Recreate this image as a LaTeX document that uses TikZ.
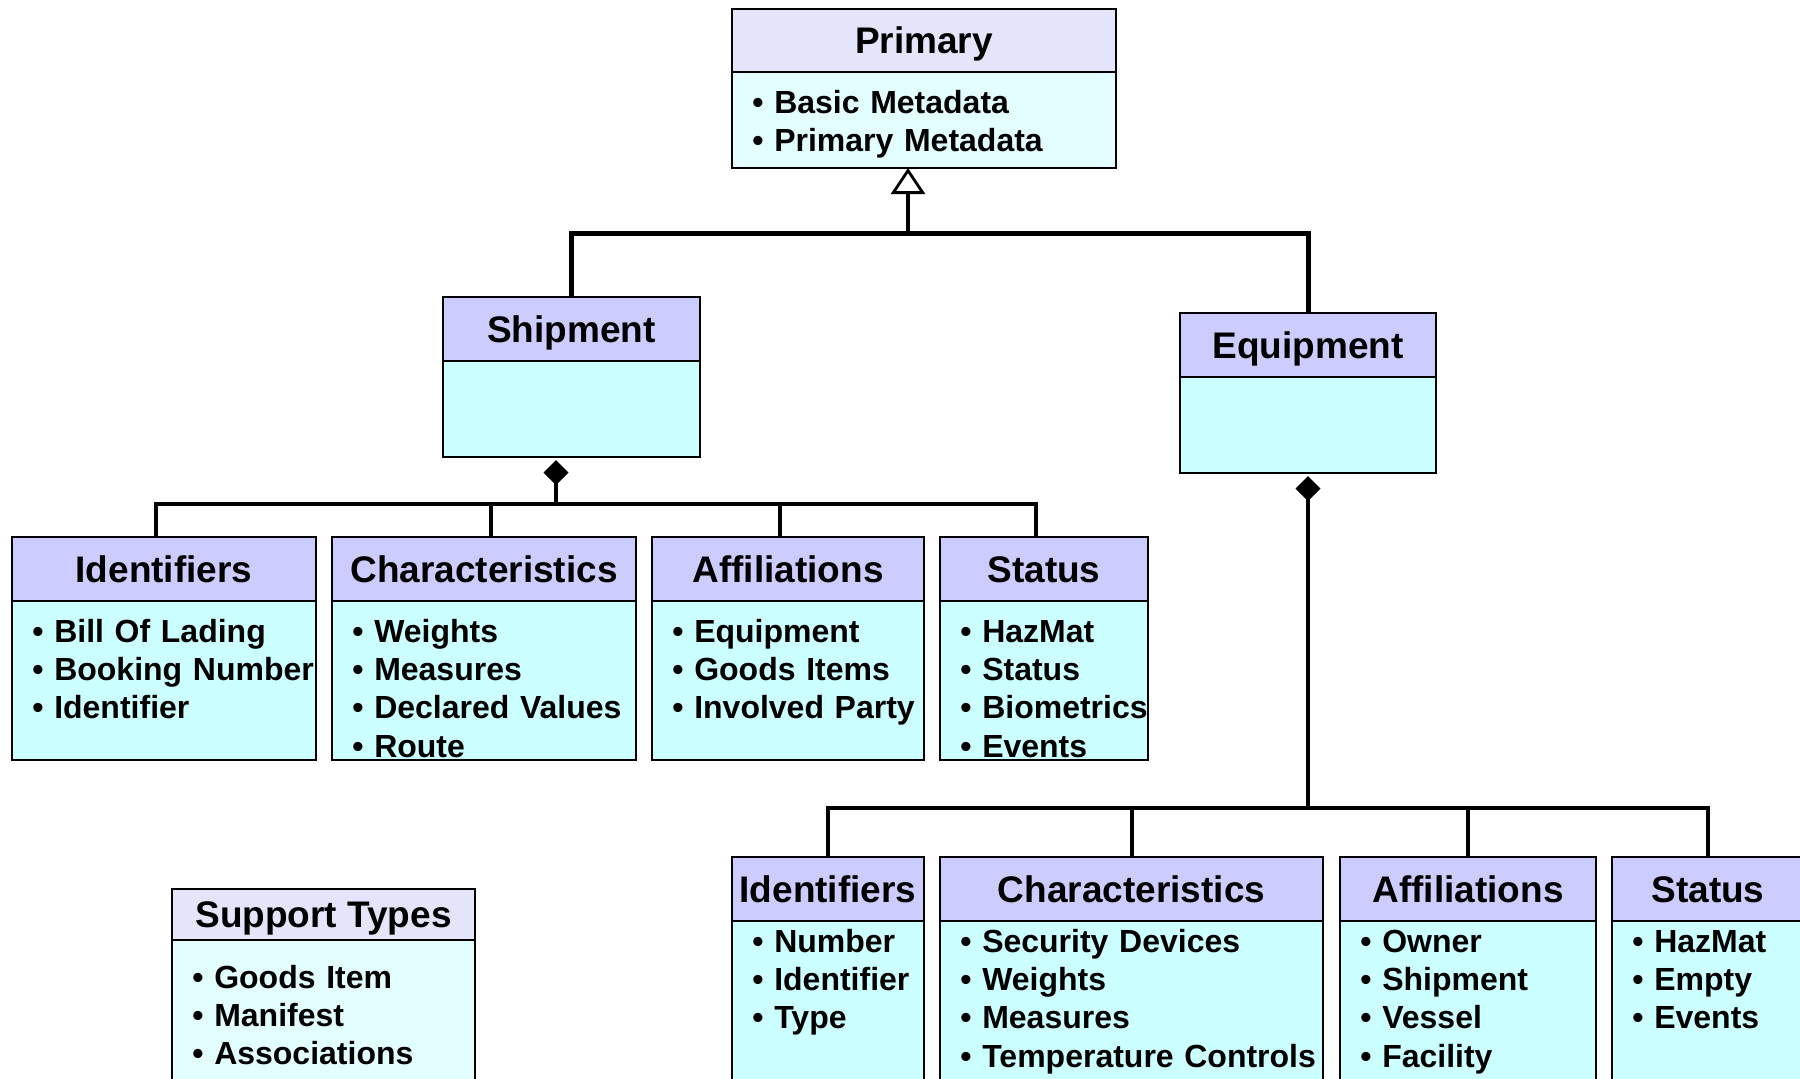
\documentclass[tikz,border=0pt]{standalone}
\usepackage{fontspec}
\setmainfont{Liberation Sans}
\usetikzlibrary{arrows.meta}
\definecolor{hdr}{HTML}{CCCCFF}
\definecolor{bdy}{HTML}{CCFFFF}
\definecolor{hdrl}{HTML}{E4E4FA}
\definecolor{bdyl}{HTML}{E2FEFE}
\newcommand\clsbox[9]{%
  \node[hbox,fill=#8,minimum width=#4*0.5bp,minimum height=#5*0.5bp] (#1h) at (#2,#3) {#7};
  \node[bbox,fill=#9,minimum width=#4*0.5bp,minimum height=#6*0.5bp] (#1b) at (#1h.south west) {};
}
\begin{document}
\begin{tikzpicture}[x=0.5bp,y=-0.5bp,
  box/.style={draw=black, line width=1.2bp, inner sep=0pt, outer sep=0pt, anchor=north west},
  hbox/.style={box, font=\bfseries\fontsize{18.5bp}{22bp}\selectfont, text height=13.2bp, text depth=0pt},
  bbox/.style={box},
  items/.style={anchor=base west, inner sep=0pt, text width=220bp, align=left,
    font=\bfseries\fontsize{16bp}{19.1bp}\selectfont},
  conn/.style={line width=2bp, line join=miter},
  gen/.style={line width=2.5bp, line join=miter},
  diam/.style={conn, {Diamond[length=12.5bp,width=12.5bp]}-},
]
\useasboundingbox (0,0) rectangle (1800,1078);
\fill[white] (0,0) rectangle (1800,1078);
\clip (0,0) rectangle (1800,1078);

% classes
\clsbox{prim}{732}{9}{384}{63}{96}{Primary}{hdrl}{bdyl}
\clsbox{ship}{443}{297}{257}{64}{96}{Shipment}{hdr}{bdy}
\clsbox{eq}{1180}{313}{256}{64}{96}{Equipment}{hdr}{bdy}
\clsbox{idsa}{12}{537}{304}{64}{159}{Identifiers}{hdr}{bdy}
\clsbox{chra}{332}{537}{304}{64}{159}{Characteristics}{hdr}{bdy}
\clsbox{affa}{652}{537}{272}{64}{159}{Affiliations}{hdr}{bdy}
\clsbox{staa}{940}{537}{208}{64}{159}{Status}{hdr}{bdy}
\clsbox{idsb}{732}{857}{192}{64}{240}{Identifiers}{hdr}{bdy}
\clsbox{chrb}{940}{857}{383}{64}{240}{Characteristics}{hdr}{bdy}
\clsbox{affb}{1340}{857}{256}{64}{240}{Affiliations}{hdr}{bdy}
\clsbox{stab}{1612}{857}{192}{64}{240}{Status}{hdr}{bdy}
\clsbox{supp}{172}{889}{303}{51}{240}{Support Types}{hdrl}{bdyl}

% item lists
\node[items] (primi) at (752,113.5) {• Basic Metadata\\• Primary Metadata};
\node[items] (idsai) at (32,642.5) {• Bill Of Lading\\• Booking Number\\• Identifier};
\node[items] (chrai) at (352,642.5) {• Weights\\• Measures\\• Declared Values\\• Route};
\node[items] (affai) at (672,642.5) {• Equipment\\• Goods Items\\• Involved Party};
\node[items] (staai) at (960,642.5) {• HazMat\\• Status\\• Biometrics\\• Events};
\node[items] (idsbi) at (752,952.5) {• Number\\• Identifier\\• Type};
\node[items] (chrbi) at (960,952.5) {• Security Devices\\• Weights\\• Measures\\• Temperature Controls};
\node[items] (affbi) at (1360,952.5) {• Owner\\• Shipment\\• Vessel\\• Facility};
\node[items] (stabi) at (1632,952.5) {• HazMat\\• Empty\\• Events};
\node[items] (suppi) at (192,988.5) {• Goods Item\\• Manifest\\• Associations};

% generalization tree
\coordinate (tj) at (908,233);
\draw[gen] (shiph.north) |- (tj) -| (eqh.north);
\draw[line width=2.2bp, -{Triangle[open, fill=white, length=13bp, width=17bp, line width=1.4bp]}]
  (tj) -- (tj |- primb.south);

% shipment composition
\coordinate (sa) at (156,504);
\coordinate (sb) at (491,504);
\coordinate (sc) at (780,504);
\coordinate (sd) at (1036,504);
\coordinate (sj) at (556,504);
\draw[diam] ([yshift=-1.5bp]sj |- shipb.south) -- (sj);
\draw[conn] (sa |- idsah.north) |- (sd) -- (sd |- staah.north);
\draw[conn] (sb) -- (sb |- chrah.north);
\draw[conn] (sc) -- (sc |- affah.north);

% equipment composition
\coordinate (ej) at (1308,808);
\coordinate (ea) at (828,808);
\coordinate (eb) at (1132,808);
\coordinate (ec) at (1468,808);
\coordinate (ed) at (1708,808);
\draw[diam] ([yshift=-1.5bp]eqb.south) -- (ej);
\draw[conn] (ea |- idsbh.north) |- (ed) -- (ed |- stabh.north);
\draw[conn] (eb) -- (eb |- chrbh.north);
\draw[conn] (ec) -- (ec |- affbh.north);
\end{tikzpicture}
\end{document}
